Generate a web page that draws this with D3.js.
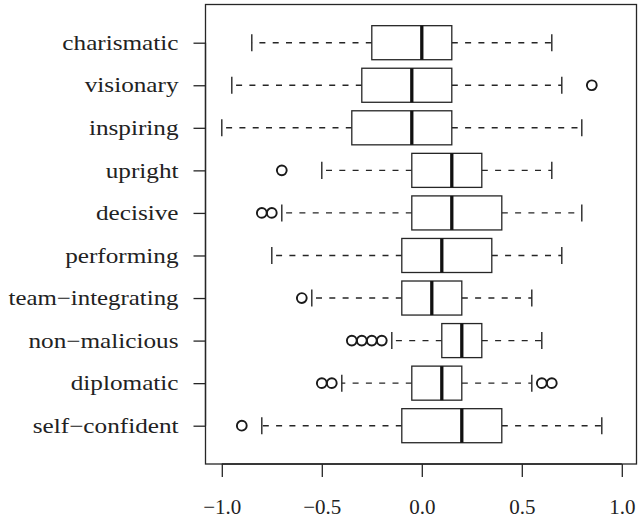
<!DOCTYPE html>
<html>
<head>
<meta charset="utf-8">
<script src="https://cdn.jsdelivr.net/npm/d3@7"></script>
<style>
    body { margin: 0; background: #fff; }
    svg text { font-family: "Liberation Serif", "DejaVu Serif", serif; fill: #222; }
</style>
</head>
<body>
<svg id="chart" width="638" height="521"></svg>
<script>
// traits, top to bottom
var traits = ['charismatic', 'visionary', 'inspiring', 'upright', 'decisive',
    'performing', 'team\u2212integrating', 'non\u2212malicious', 'diplomatic', 'self\u2212confident'];

// five-number summaries
var lowWhisker = [-0.85, -0.95, -1.00, -0.50, -0.70, -0.75, -0.55, -0.15, -0.40, -0.80];
var q1         = [-0.25, -0.30, -0.35, -0.05, -0.05, -0.10, -0.10,  0.10, -0.05, -0.10];
var median     = [ 0.00, -0.05, -0.05,  0.15,  0.15,  0.10,  0.05,  0.20,  0.10,  0.20];
var q3         = [ 0.15,  0.15,  0.15,  0.30,  0.40,  0.35,  0.20,  0.30,  0.20,  0.40];
var highWhisker= [ 0.65,  0.70,  0.80,  0.65,  0.80,  0.70,  0.55,  0.60,  0.55,  0.90];
var outliers = [
    [],
    [0.85],
    [],
    [-0.70],
    [-0.80, -0.75],
    [],
    [-0.60],
    [-0.35, -0.30, -0.25, -0.20],
    [-0.50, -0.45, 0.60, 0.65],
    [-0.90]
];

var xTicks = [-1.0, -0.5, 0.0, 0.5, 1.0];

var svg = d3.select('#chart');
var plot = { left: 205.5, right: 636.5, top: 4.5, bottom: 464 };

var x = d3.scaleLinear()
    .domain([-1.0815, 1.0735])
    .range([plot.left, plot.right]);

// category centres spaced ~42.6px
var y = d3.scalePoint()
    .domain(traits)
    .range([42.7, 425.7]);

var step = y.step();
var boxH = step * 0.8;
var ink = '#262626';
var g = svg.append('g');

var rows = traits.map(function(t, i) {
    return { name: t, lo: lowWhisker[i], q1: q1[i], med: median[i], q3: q3[i], hi: highWhisker[i], out: outliers[i] };
});

var row = g.selectAll('.row').data(rows).enter().append('g')
    .attr('class', 'row')
    .attr('transform', function(d) { return 'translate(0,' + y(d.name) + ')'; });

// whiskers (dashes start at the box)
row.append('line')
    .attr('x1', function(d) { return x(d.q1); })
    .attr('x2', function(d) { return x(d.lo); })
    .attr('stroke', ink).attr('stroke-width', 1.4).attr('stroke-dasharray', '6,7.3');
row.append('line')
    .attr('x1', function(d) { return x(d.q3); })
    .attr('x2', function(d) { return x(d.hi); })
    .attr('stroke', ink).attr('stroke-width', 1.4).attr('stroke-dasharray', '6,7.3');

// staples
row.selectAll('.staple').data(function(d) { return [d.lo, d.hi]; }).enter().append('line')
    .attr('x1', function(v) { return x(v); })
    .attr('x2', function(v) { return x(v); })
    .attr('y1', -boxH / 4).attr('y2', boxH / 4)
    .attr('stroke', ink).attr('stroke-width', 1.4);

// box
row.append('rect')
    .attr('x', function(d) { return x(d.q1); })
    .attr('width', function(d) { return x(d.q3) - x(d.q1); })
    .attr('y', -boxH / 2).attr('height', boxH)
    .attr('fill', '#fff').attr('stroke', ink).attr('stroke-width', 1.3);

// median
row.append('line')
    .attr('x1', function(d) { return x(d.med); })
    .attr('x2', function(d) { return x(d.med); })
    .attr('y1', -boxH / 2).attr('y2', boxH / 2)
    .attr('stroke', '#111').attr('stroke-width', 3.3);

// outliers
row.selectAll('circle').data(function(d) { return d.out; }).enter().append('circle')
    .attr('cx', function(v) { return x(v); })
    .attr('cy', 0)
    .attr('r', 4.9)
    .attr('fill', 'none').attr('stroke', '#1a1a1a').attr('stroke-width', 1.9);

// frame
g.append('rect')
    .attr('x', plot.left).attr('y', plot.top)
    .attr('width', plot.right - plot.left).attr('height', plot.bottom - plot.top)
    .attr('fill', 'none').attr('stroke', ink).attr('stroke-width', 1.3);

// x axis
var xAxis = svg.append('g')
    .attr('transform', 'translate(0,' + plot.bottom + ')')
    .call(d3.axisBottom(x).tickValues(xTicks).tickSize(13).tickPadding(22)
        .tickFormat(function(v) { return d3.format('.1f')(v).replace('-', '\u2212'); }));
xAxis.select('.domain')
    .attr('d', 'M' + x(-1.0) + ',0H' + x(1.0))
    .attr('stroke', ink).attr('stroke-width', 1.3);
xAxis.selectAll('.tick line').attr('stroke', ink).attr('stroke-width', 1.3);
xAxis.selectAll('text').attr('font-size', 21).attr('font-family', null);

// y axis
var yAxis = svg.append('g')
    .attr('transform', 'translate(' + plot.left + ',0)')
    .call(d3.axisLeft(y).tickSize(12).tickPadding(15));
yAxis.select('.domain')
    .attr('d', 'M0,' + y(traits[0]) + 'V' + y(traits[traits.length - 1]))
    .attr('stroke', ink).attr('stroke-width', 1.3);
yAxis.selectAll('.tick line').attr('stroke', ink).attr('stroke-width', 1.3);
// the original face is a wider book serif; widen the labels a bit, keep them on the page
yAxis.selectAll('text')
    .attr('font-size', 21).attr('font-family', null)
    .each(function() {
        var w = this.getComputedTextLength();
        d3.select(this).attr('textLength', Math.min(w * 1.2, 170)).attr('lengthAdjust', 'spacingAndGlyphs');
    });
</script>
</body>
</html>
